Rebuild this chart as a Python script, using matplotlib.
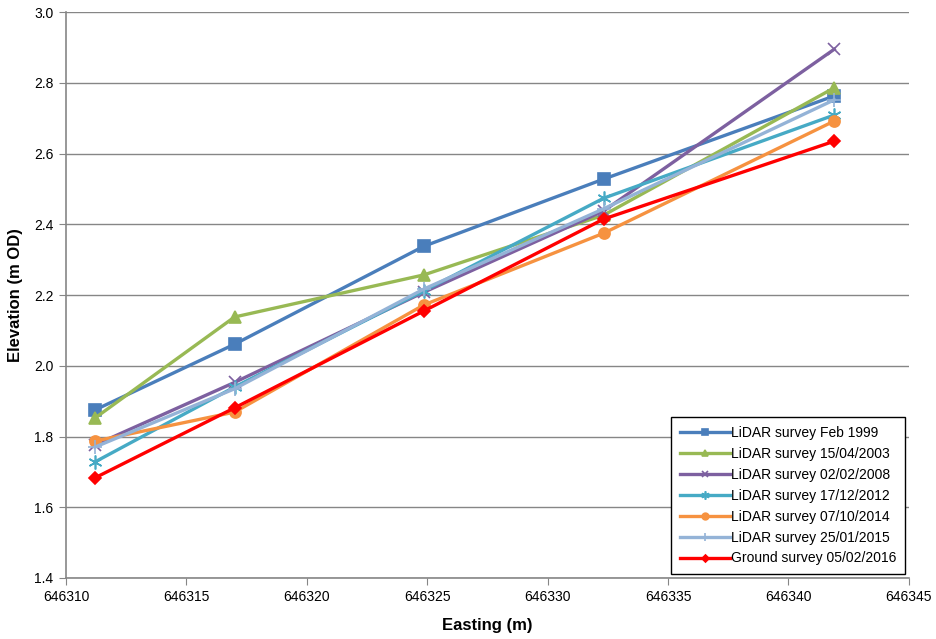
import matplotlib.pyplot as plt

plt.rcParams['font.family'] = ['Liberation Sans', 'DejaVu Sans']

# cross-section easting positions
easting = [646311.2, 646317.0, 646324.86, 646332.33, 646341.9]

lidar_1999 = [1.875, 2.061, 2.338, 2.528, 2.763]
lidar_2003 = [1.852, 2.138, 2.257, 2.426, 2.786]
lidar_2008 = [1.776, 1.953, 2.208, 2.438, 2.895]
lidar_2012 = [1.728, 1.940, 2.212, 2.474, 2.709]
lidar_2014 = [1.787, 1.869, 2.172, 2.375, 2.692]
lidar_2015 = [1.770, 1.935, 2.217, 2.444, 2.752]
ground_2016 = [1.683, 1.881, 2.155, 2.415, 2.635]

series = [
    ("LiDAR survey Feb 1999", lidar_1999, "#4A7EBB", "s", 8),
    ("LiDAR survey 15/04/2003", lidar_2003, "#98B954", "^", 8),
    ("LiDAR survey 02/02/2008", lidar_2008, "#7D60A0", "x", 8),
    ("LiDAR survey 17/12/2012", lidar_2012, "#46AAC5", (6, 2, 0), 10),
    ("LiDAR survey 07/10/2014", lidar_2014, "#F69240", "o", 8),
    ("LiDAR survey 25/01/2015", lidar_2015, "#94B3D7", "+", 10),
    ("Ground survey 05/02/2016", ground_2016, "#FF0000", "D", 6),
]

fig = plt.figure(figsize=(9.36, 6.39), dpi=100)
ax = fig.add_axes([0.0705, 0.0955, 0.9005, 0.8855])

for label, vals, col, mk, ms in series:
    ax.plot(easting, vals, color=col, lw=2.4, marker=mk, ms=ms,
            mec=col, mfc=col, mew=1.2, label=label, clip_on=False)

ax.set_xlim(646310, 646345)
ax.set_ylim(1.4, 3.0)
ax.set_xticks(range(646310, 646346, 5))
ax.set_yticks([1.4, 1.6, 1.8, 2.0, 2.2, 2.4, 2.6, 2.8, 3.0])
ax.set_yticklabels([f"{v:.1f}" for v in ax.get_yticks()])
ax.ticklabel_format(axis='x', useOffset=False, style='plain')

ax.yaxis.grid(True, color='#868686', lw=1.0)
ax.set_axisbelow(True)
ax.axhline(3.0, color='black', lw=1.2, zorder=0)

for s in ['right', 'top']:
    ax.spines[s].set_visible(False)
for s in ['left', 'bottom']:
    ax.spines[s].set_color('#868686')
    ax.spines[s].set_linewidth(1.2)

ax.tick_params(axis='both', direction='out', length=5, color='#868686',
               labelsize=10, pad=4)

ax.set_xlabel("Easting (m)", fontsize=12, fontweight='bold', labelpad=10)
ax.set_ylabel("Elevation (m OD)", fontsize=12, fontweight='bold', labelpad=8)

leg = ax.legend(loc='lower right', fontsize=10, frameon=True, fancybox=False,
                edgecolor='black', framealpha=1, handlelength=3.6,
                handletextpad=0.1, borderpad=0.6, labelspacing=0.5,
                markerscale=0.6, borderaxespad=0.3)
leg.get_frame().set_linewidth(1.0)

fig.savefig("out.png", dpi=100)
